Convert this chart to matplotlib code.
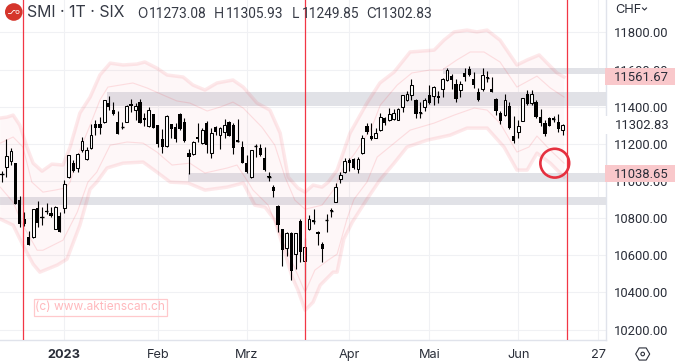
# smi_chart.py
import numpy as np
import matplotlib
matplotlib.use("Agg")
import matplotlib.pyplot as plt
from matplotlib.patches import Rectangle, RegularPolygon, Circle

plt.rcParams['font.family'] = ['Inter', 'DejaVu Sans']

# candles, first bar sits 14 sessions before the 2023 label
first_bar = -14
opens = [11039, 11073, 11109, 11095, 10897, 10793, 10698, 10699, 10854, 10805, 10841, 10825, 10744, 10811,
         10852, 11019, 11095, 11068, 11168, 11120, 11176, 11305, 11305, 11319, 11418, 11382, 11316, 11292, 11319,
         11416, 11384, 11424, 11337, 11294, 11361, 11301, 11226, 11190, 11305, 11290, 11361, 11316, 11150, 11143,
         11235, 11204, 11312, 11152, 11290, 11249, 11265, 11317, 11300, 11219, 11183, 11096, 11019, 11190, 11177,
         11122, 11026, 10967, 10863, 10739, 10640, 10721, 10608, 10782, 10570, 10739, 10789, 10725, 10660, 10791,
         10843, 10888, 11010, 11046, 11113, 11118, 11062, 11149, 11294, 11242, 11233, 11274, 11337, 11330, 11332,
         11330, 11400, 11434, 11463, 11438, 11370, 11400, 11463, 11459, 11458, 11494, 11544, 11567, 11522, 11492,
         11580, 11603, 11549, 11479, 11495, 11562, 11495, 11440, 11368, 11355, 11404, 11242, 11265, 11324, 11468,
         11421, 11425, 11346, 11310, 11341, 11337, 11317, 11273.08]
closes = [11034, 11136, 11160, 10877, 10769, 10769, 10656, 10847, 10773, 10802, 10832, 10811, 10858, 10726,
          10983, 11138, 11055, 11145, 11213, 11165, 11246, 11287, 11287, 11434, 11400, 11361, 11254, 11289, 11405,
          11404, 11402, 11315, 11327, 11380, 11283, 11197, 11181, 11348, 11281, 11226, 11278, 11215, 11130, 11210,
          11224, 11276, 11195, 11258, 11265, 11283, 11300, 11244, 11177, 11211, 11098, 11050, 11167, 11188, 11141,
          11059, 11019, 10947, 10762, 10629, 10718, 10516, 10719, 10615, 10644, 10793, 10780, 10715, 10634, 10788,
          10836, 10965, 11030, 11109, 11095, 11071, 11116, 11231, 11264, 11224, 11256, 11346, 11310, 11361, 11368,
          11389, 11461, 11468, 11517, 11361, 11366, 11434, 11418, 11504, 11448, 11551, 11598, 11545, 11443, 11522,
          11562, 11572, 11517, 11436, 11571, 11553, 11481, 11378, 11323, 11436, 11283, 11215, 11296, 11445, 11414,
          11468, 11343, 11310, 11253, 11297, 11328, 11278, 11302.83]
highs = [11053, 11224, 11176, 11096, 10919, 10832, 10730, 10848, 10892, 10861, 10881, 10858, 10863, 10831,
         11005, 11140, 11111, 11149, 11238, 11183, 11305, 11328, 11343, 11436, 11458, 11424, 11377, 11319, 11409,
         11440, 11420, 11441, 11364, 11397, 11361, 11301, 11278, 11353, 11305, 11310, 11364, 11337, 11172, 11215,
         11312, 11287, 11321, 11283, 11296, 11292, 11332, 11323, 11310, 11334, 11215, 11140, 11168, 11199, 11200,
         11181, 11050, 10978, 10870, 10741, 10726, 10725, 10721, 10796, 10692, 10815, 10848, 10728, 10672, 10822,
         10855, 10987, 11050, 11122, 11122, 11125, 11127, 11247, 11310, 11310, 11287, 11364, 11343, 11391, 11386,
         11394, 11463, 11485, 11549, 11440, 11424, 11445, 11517, 11511, 11485, 11553, 11610, 11575, 11549, 11540,
         11608, 11619, 11585, 11499, 11610, 11592, 11558, 11445, 11378, 11468, 11427, 11350, 11328, 11447, 11490,
         11490, 11436, 11386, 11328, 11343, 11350, 11359, 11305.93]
lows = [10996, 11023, 11086, 10875, 10751, 10757, 10654, 10692, 10753, 10762, 10823, 10805, 10741, 10725,
        10827, 11016, 11048, 11048, 11157, 11114, 11172, 11247, 11251, 11314, 11382, 11355, 11253, 11278, 11317,
        11373, 11328, 11312, 11297, 11290, 11283, 11184, 11152, 11184, 11233, 11211, 11274, 11211, 11037, 11140,
        11211, 11199, 11149, 11122, 11247, 11170, 11230, 11242, 11147, 11210, 11096, 11044, 11014, 11130, 11134,
        11053, 10999, 10913, 10725, 10541, 10595, 10466, 10527, 10564, 10412, 10735, 10768, 10654, 10564, 10726,
        10805, 10886, 10990, 11043, 11055, 11064, 11041, 11145, 11253, 11220, 11231, 11269, 11301, 11323, 11328,
        11328, 11373, 11431, 11436, 11339, 11339, 11378, 11414, 11409, 11418, 11454, 11538, 11495, 11427, 11451,
        11540, 11567, 11499, 11431, 11484, 11535, 11479, 11355, 11307, 11350, 11280, 11203, 11233, 11323, 11409,
        11409, 11339, 11298, 11242, 11296, 11316, 11264, 11249.85]

# channel lines, bar position and price
upper_outer_x = [-14.4, -12.9, -11.5, -10, -8.4, -7, -5, -2.8, -0.3, 1.3, 3.5, 5.8, 8, 10.3, 13.2, 16.3, 18.1, 20.8,
                 23.1, 26.7, 28.9, 31.6, 34.3, 37.9, 40.2, 43.3, 46.2, 48.5, 50.3, 52.5, 54.1, 55.9, 57.9, 59.3,
                 61.3, 64.2, 68, 70.9, 74.1, 77.7, 83.1, 85.3, 87.6, 90.5, 92.7, 95, 97.9, 101.7, 104, 106.7,
                 108.5, 110.7, 112.3]
upper_outer_y = [11339, 11344, 11355, 11301, 11183, 11096, 11053, 11091, 11086, 11183, 11366, 11452, 11571, 11635,
                 11625, 11630, 11641, 11608, 11571, 11560, 11517, 11490, 11528, 11544, 11506, 11420, 11382, 11258,
                 11021, 10962, 10940, 10978, 10967, 10994, 11059, 11258, 11420, 11528, 11587, 11695, 11705, 11759,
                 11803, 11813, 11803, 11813, 11759, 11625, 11652, 11679, 11635, 11582, 11560]
lower_outer_x = [-14.4, -11.5, -9.3, -7, -5.5, -1.6, 0.6, 3.5, 5.8, 7.3, 9.6, 13.2, 17.7, 20.8, 23.8, 27.8, 31.6,
                 36.6, 40.2, 42.8, 45.1, 47.3, 49.6, 51.2, 52.5, 54.1, 55.9, 57.5, 60.4, 61.3, 62.8, 64.7, 68, 70.9,
                 74.1, 77, 81.5, 86.7, 90.5, 95, 98.8, 101.7, 104, 106.2, 109.2, 112.3]
lower_outer_y = [10795, 10762, 10654, 10552, 10509, 10547, 10579, 10762, 10956, 10994, 11070, 11096, 11102, 11048,
                 10994, 10989, 10951, 10967, 10989, 10870, 10859, 10789, 10611, 10482, 10412, 10304, 10347, 10439,
                 10509, 10509, 10687, 10778, 10902, 11005, 11096, 11183, 11220, 11247, 11285, 11285, 11183, 11059,
                 11059, 11150, 11096, 11021]
upper_inner_x = [-14.4, -11.5, -9.3, -7.3, -4.8, -2.1, 0.2, 1.3, 3.5, 5.8, 8, 9.8, 15.4, 18.6, 22.2, 25.3, 28.2,
                 32.1, 35, 37.9, 40.2, 42.4, 44.4, 47.3, 49.6, 51.8, 54.1, 57.9, 60.8, 62.4, 65.3, 69.1, 71, 74.8,
                 78.1, 82.2, 84.9, 88.2, 91.2, 94.3, 97.9, 101.7, 106.2, 109.2, 112.3]
upper_inner_y = [11204, 11237, 11183, 10994, 10940, 10951, 10962, 10994, 11166, 11301, 11436, 11506, 11528, 11501,
                 11463, 11431, 11420, 11377, 11398, 11425, 11393, 11339, 11290, 11193, 11021, 10897, 10848, 10870,
                 10962, 11059, 11150, 11290, 11409, 11517, 11582, 11598, 11598, 11652, 11695, 11695, 11641, 11506,
                 11565, 11501, 11452]
lower_inner_x = [-14.4, -11.5, -9.3, -6.1, -4.8, -0.3, 2.9, 5.3, 7.3, 10.3, 14.1, 17.7, 20.8, 24.2, 28.2, 31.6,
                 36.6, 38.8, 41.3, 42.4, 45.8, 48.5, 51.2, 54.1, 56.3, 59.3, 61.3, 63.5, 65.1, 68, 70.3, 77.7, 83.1,
                 87.6, 92.1, 95, 97.9, 101.7, 104.4, 106.2, 109.2, 112.3]
lower_inner_y = [10967, 10886, 10762, 10627, 10627, 10681, 10832, 10994, 11048, 11193, 11210, 11204, 11156, 11086,
                 11096, 11043, 11070, 11086, 10994, 10951, 10870, 10708, 10563, 10401, 10520, 10574, 10606, 10795,
                 10902, 10994, 11129, 11274, 11312, 11355, 11393, 11382, 11312, 11156, 11183, 11242, 11166, 11096]

# grey support/resistance zones: start bar, bottom price, top price
zone_start = [9.5, 85.1, 27.9, -14.5]
zone_low = [11404, 11578, 10995, 10872]
zone_high = [11477, 11608, 11041, 10913]

marker_bars = [-9.2, 54, 113]
alert_bar, alert_price = 110.2, 11096

y_ticks = [10200, 10400, 10600, 10800, 11000, 11200, 11400, 11600, 11800]
x_ticks = [0, 21, 41, 64, 82, 102, 120]
x_labels = ["2023", "Feb", "Mrz", "Apr", "Mai", "Jun", "27"]
last_price = 11302.83
level_labels = [11561.67, 11038.65]
ohlc_letters = ["O", "H", "L", "C"]
ohlc_values = ["11273.08", "11305.93", "11249.85", "11302.83"]

TEXT = '#2a2e39'
GRID = '#f0f1f4'
AXIS = '#e0e3eb'
RED = '#f23645'
NUM_FONT = 'Roboto'  # digits have equal width, Inter's do not

fig = plt.figure(figsize=(6.77, 3.64), dpi=100)
ax = fig.add_axes([0, 1 - 339.5 / 364, 605.5 / 677, 339.5 / 364])
ax.set_xlim(-14.45, 121.6)
ax.set_ylim(10146.2, 11975)

ax.set_axisbelow(True)
ax.grid(True, color=GRID, linewidth=0.8)
for s in ['top', 'left']:
    ax.spines[s].set_visible(False)
for s in ['bottom', 'right']:
    ax.spines[s].set_color(AXIS)
    ax.spines[s].set_linewidth(1.0)

ax.yaxis.tick_right()
ax.set_yticks(y_ticks)
ax.set_yticklabels([f"{v:.2f}" for v in y_ticks], fontsize=9.4, color=TEXT, family=NUM_FONT)
ax.set_xticks(x_ticks)
ax.set_xticklabels(x_labels, fontsize=9.2, color=TEXT)
ax.get_xticklabels()[0].set_fontweight('bold')
ax.tick_params(axis='y', length=0, pad=6)
ax.tick_params(axis='x', length=0, pad=7)

# zones
for start, lo, hi in zip(zone_start, zone_low, zone_high):
    ax.fill_between([start, 121.6], lo, hi, color='#e1e2e7', linewidth=0, zorder=1)

# channel
poly_x = upper_outer_x + lower_outer_x[::-1]
poly_y = upper_outer_y + lower_outer_y[::-1]
ax.fill(poly_x, poly_y, color=RED, alpha=0.035, linewidth=0, zorder=2)
ax.plot(upper_outer_x, upper_outer_y, color=RED, alpha=0.11, linewidth=2.5, zorder=2.1)
ax.plot(lower_outer_x, lower_outer_y, color=RED, alpha=0.11, linewidth=2.5, zorder=2.1)
ax.plot(upper_inner_x, upper_inner_y, color=RED, alpha=0.14, linewidth=0.8, zorder=2.1)
ax.plot(lower_inner_x, lower_inner_y, color=RED, alpha=0.14, linewidth=0.8, zorder=2.1)

# candles
bars = np.arange(first_bar, first_bar + len(opens))
opens = np.array(opens)
closes = np.array(closes)
ax.vlines(bars, lows, highs, color='black', linewidth=0.8, zorder=3)
up = closes >= opens
ax.bar(bars[up], (closes - opens)[up], bottom=opens[up], width=0.62, facecolor='white',
       edgecolor='black', linewidth=0.75, zorder=4)
ax.bar(bars[~up], (opens - closes)[~up], bottom=closes[~up], width=0.72, color='black', linewidth=0, zorder=4)
# dojis would vanish with no height, so give them a stroke
flat = np.abs(opens - closes) < 10
ax.hlines(((opens + closes) / 2)[flat], bars[flat] - 0.36, bars[flat] + 0.36, color='black', linewidth=1.0, zorder=4)

for b in marker_bars:
    ax.axvline(b, color=RED, linewidth=0.9, zorder=5)
ax.scatter([alert_bar], [alert_price], s=430, facecolors='none', edgecolors='#e5303f', linewidths=1.9, zorder=6)

# everything around the plot goes on an overlay in pixel coordinates
over = fig.add_axes([0, 0, 1, 1], facecolor='none')
over.set_xlim(0, 677)
over.set_ylim(364, 0)
over.axis('off')


def price_y(price):
    return 364 - ax.transData.transform((0, price))[1]


# price boxes on the axis
for p in level_labels:
    y = price_y(p)
    over.add_patch(Rectangle((605, y - 8.5), 70, 17, facecolor='#f9c8cb', edgecolor='none', zorder=3))
    over.text(669, y + 0.3, f"{p:.2f}", ha='right', va='center', fontsize=9.4, color=TEXT, family=NUM_FONT, zorder=4)
y = price_y(last_price)
over.add_patch(Rectangle((604.5, y - 9), 72, 18, facecolor='white', edgecolor='none', zorder=3))
over.text(669, y + 0.3, f"{last_price:.2f}", ha='right', va='center', fontsize=9.4, color=TEXT, family=NUM_FONT, zorder=4)

# header
over.add_patch(Circle((13.8, 12), 8.8, facecolor='#d5352b', edgecolor='none'))
over.plot([8.5, 11, 13.5, 15], [13.5, 13.5, 10.5, 10.5], color='white', linewidth=0.6)
over.add_patch(Circle((17.5, 12), 1.6, facecolor='none', edgecolor='white', linewidth=0.5))
over.text(27, 12.5, "SMI · 1T · SIX", fontsize=11.4, color='#363a45', va='center', ha='left')
for lx, vx, letter, value in zip([137, 214, 291.5, 366], [149, 226, 302, 375], ohlc_letters, ohlc_values):
    over.text(lx, 13.5, letter, fontsize=9.8, color='#363a45', va='center', ha='left')
    over.text(vx, 13.5, value, fontsize=9.9, color='#363a45', va='center', ha='left', family=NUM_FONT)

over.text(615, 10, "CHF", fontsize=9.2, color=TEXT, va='center', ha='left')
over.plot([642.5, 644.5, 646.5], [8, 10, 8], color=TEXT, linewidth=0.8)

# watermark
over.add_patch(Rectangle((33.5, 299), 133, 16.5, facecolor='none', edgecolor='#ffc9cc', linewidth=0.9))
over.text(100, 307.5, "(c) www.aktienscan.ch", fontsize=8.6, color='#ffb9bd', va='center', ha='center')

# settings icon
over.add_patch(RegularPolygon((642.7, 354), 6, radius=7, orientation=np.pi / 2, facecolor='none',
                              edgecolor=TEXT, linewidth=0.8))
over.add_patch(Circle((642.7, 354), 1.8, facecolor='none', edgecolor=TEXT, linewidth=0.8))

fig.savefig("out.png", dpi=100)
